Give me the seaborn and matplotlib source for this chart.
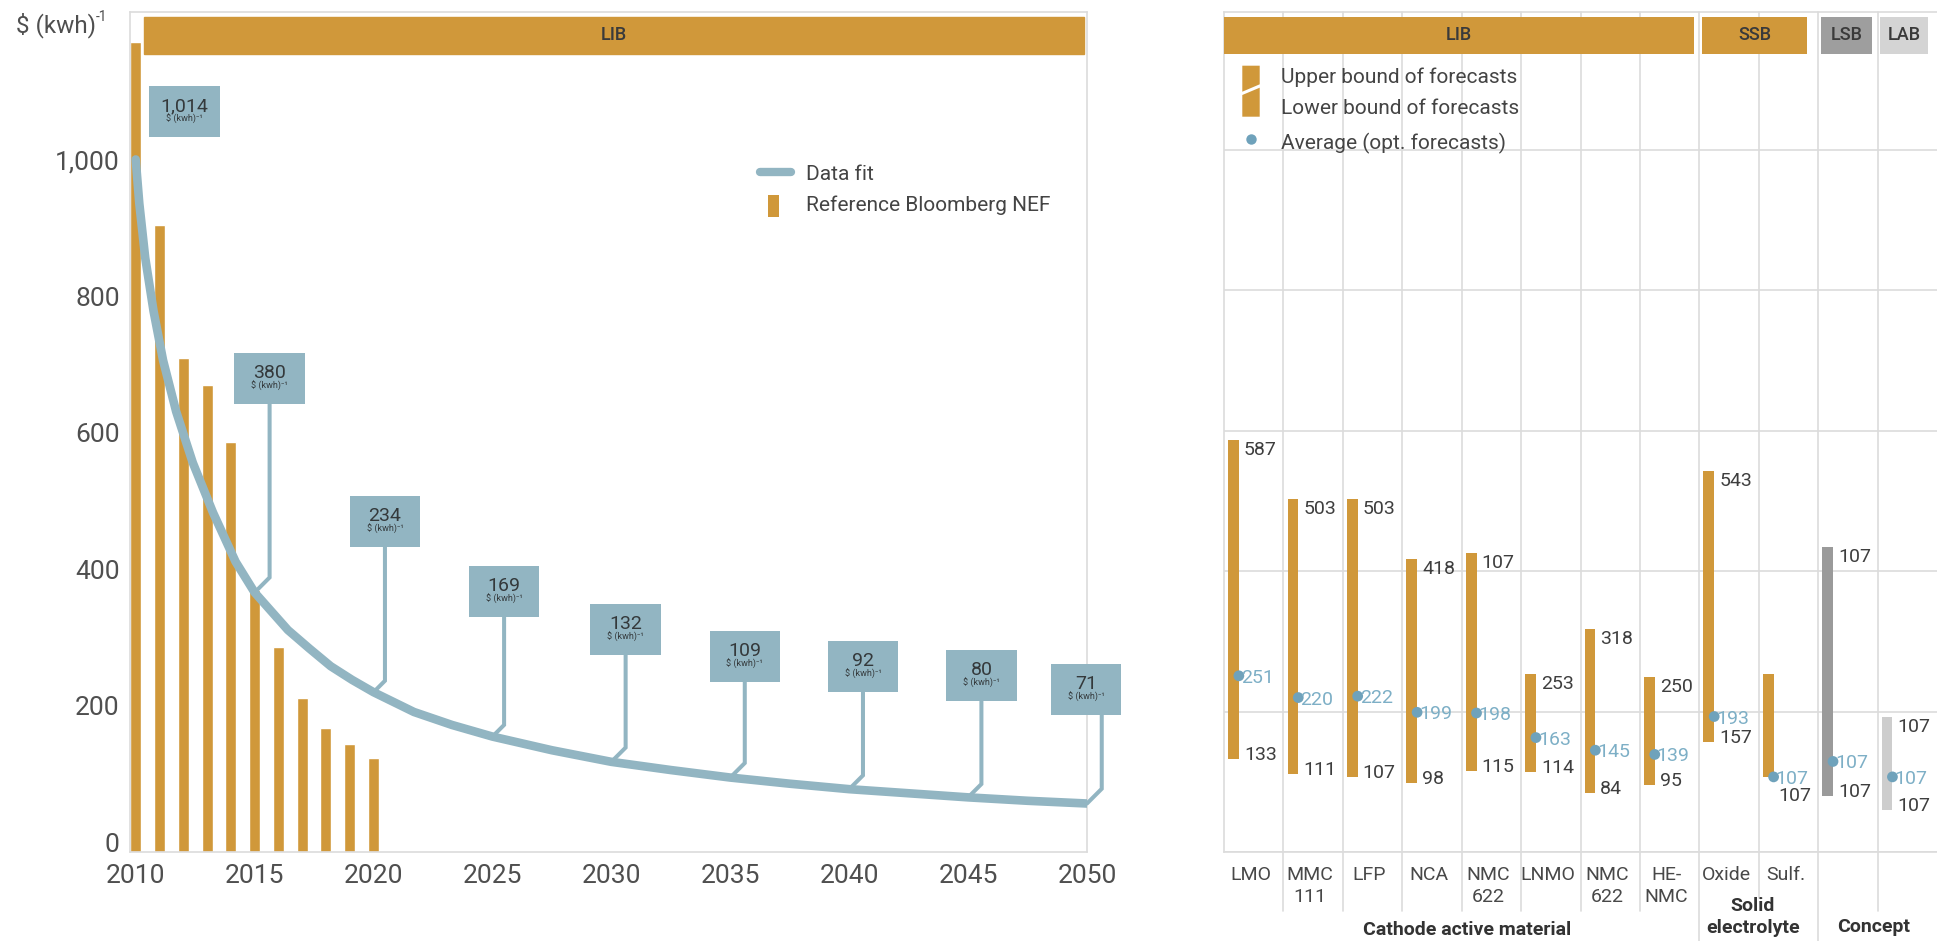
import numpy as np
import matplotlib
matplotlib.use("Agg")
import matplotlib.pyplot as plt
from matplotlib.patches import Rectangle, Polygon
from matplotlib.lines import Line2D
from matplotlib.transforms import blended_transform_factory
import seaborn as sns

# ---------------- data ----------------
# BNEF reference pack prices, $ (kwh)^-1
bnef_years = [2010, 2011, 2012, 2013, 2014, 2015, 2016, 2017, 2018, 2019, 2020]
bnef_prices = [1186, 918, 724, 684, 601, 383, 300, 225, 181, 158, 138]

# fitted cost curve
fit_years = [2010, 2010.15, 2010.4, 2010.75, 2011.15, 2011.7, 2012.4, 2013.25, 2014.2,
             2015, 2016.4, 2017.3, 2018.2, 2019.1, 2020, 2021.7, 2023.3, 2025, 2027.5,
             2030, 2032.5, 2035, 2037.5, 2040, 2042.5, 2045, 2047.5, 2050]
fit_values = [1014, 950, 870, 792, 720, 645, 570, 497, 425,
              380, 325, 298, 272, 252, 234, 205, 186, 169, 149,
              132, 120, 109, 100, 92, 86, 80, 75, 71]

# years with a value callout
callout_years = [2010, 2015, 2020, 2025, 2030, 2035, 2040, 2045, 2050]

# forecast ranges per technology
materials = ["LMO", "MMC\n111", "LFP", "NCA", "NMC\n622", "LNMO", "NMC\n622", "HE-\nNMC",
             "Oxide", "Sulf.", "", ""]
families = ["LIB"] * 8 + ["SSB"] * 2 + ["LSB", "LAB"]
upper = [587, 503, 503, 418, 426, 253, 318, 250, 543, 253, 434, 193]
lower = [133, 111, 107, 98, 115, 114, 84, 95, 157, 107, 80, 60]
average = [251, 220, 222, 199, 198, 163, 145, 139, 193, 107, 129, 107]
upper_text = ["587", "503", "503", "418", "107", "253", "318", "250", "543", "", "107", "107"]
lower_text = ["133", "111", "107", "98", "115", "114", "84", "95", "157", "107", "107", "107"]
average_text = ["251", "220", "222", "199", "198", "163", "145", "139", "193", "107", "107", "107"]

# ---------------- style ----------------
GOLD = "#D0983A"
STEEL = "#92B5C2"
DOT = "#6FA2BB"
DOT_TXT = "#7DAFC6"
GRID = "#DCDCDC"
TXT = "#3E3E3E"
TICK = "#4F4F4F"
FAMILY_COLORS = {"LIB": GOLD, "SSB": GOLD, "LSB": "#9A9A9A", "LAB": "#CDCDCD"}
HEADER_COLORS = {"LIB": GOLD, "SSB": GOLD, "LSB": "#9E9E9E", "LAB": "#D4D4D4"}

sns.set_theme(style="white")
plt.rcParams["font.family"] = ["Roboto", "DejaVu Sans"]

W, H = 1937, 941
fig = plt.figure(figsize=(W / 100, H / 100), dpi=100)


def fx(px):
    return px / W


def fy(py):
    return 1 - py / H


def frame(x0, y_top, x1, y_bot):
    return [fx(x0), fy(y_bot), (x1 - x0) / W, (y_bot - y_top) / H]


# ================= left panel: price trend =================
axL = fig.add_axes(frame(129.5, 12, 1087, 852))
XL = (2009.739, 2050.0)
YL = (0, 1229.9)

sns.barplot(x=bnef_years, y=bnef_prices, native_scale=True, width=0.46, color=GOLD,
            saturation=1, errorbar=None, ax=axL, zorder=2)
sns.lineplot(x=fit_years, y=fit_values, color=STEEL, linewidth=6.2, ax=axL,
             solid_capstyle="round", zorder=4, estimator=None)

axL.set_xlim(*XL)
axL.set_ylim(*YL)
axL.set_xlabel("")
axL.set_ylabel("")
axL.set_xticks(list(range(2010, 2051, 5)))
axL.set_xticklabels([str(y) for y in range(2010, 2051, 5)])
axL.set_yticks(list(range(0, 1001, 200)))
axL.set_yticklabels([f"{v:,}" for v in range(0, 1001, 200)])
axL.tick_params(axis="both", length=0, labelsize=19, labelcolor=TICK)
axL.tick_params(axis="x", pad=8.5)
axL.tick_params(axis="y", pad=7)
for t in axL.yaxis.get_major_ticks():
    t.label1.set_verticalalignment("baseline")
for s in axL.spines.values():
    s.set_color(GRID)
    s.set_linewidth(1.2)
axL.grid(False)

# header band
axL.add_patch(Rectangle(((144 - 129.5) / 957.5, (852 - 54) / 840), (1084.4 - 144) / 957.5,
                        37 / 840, transform=axL.transAxes, color=GOLD, zorder=5, clip_on=False))
axL.text((614 - 129.5) / 957.5, (852 - 35.5) / 840, "LIB", transform=axL.transAxes,
         ha="center", va="center", fontsize=13, fontweight="medium", color="#3A3A3A", zorder=6)

# value callouts
ppx = 957.5 / (XL[1] - XL[0])
ppy = 840 / (YL[1] - YL[0])
box_x = [2012.06, 2015.63, 2020.48, 2025.49, 2030.6, 2035.61, 2040.58, 2045.56, 2049.96]
box_y = [1084, 694, 484, 381, 326, 286, 271, 258, 238]
stem_x = [None, 2015.63, 2020.48, 2025.49, 2030.6, 2035.61, 2040.58, 2045.56, 2050.62]
fit_lookup = dict(zip(fit_years, fit_values))
bw, bh = 70.5 / ppx, 51 / ppy
for k, yr in enumerate(callout_years):
    val = fit_lookup[yr]
    bx, by = box_x[k], box_y[k]
    axL.add_patch(Rectangle((bx - bw / 2, by - bh / 2), bw, bh, color=STEEL,
                            zorder=5, clip_on=False, lw=0))
    top = by + bh / 2
    axL.text(bx, top - 18 / ppy, f"{val:,}", ha="center", va="center_baseline",
             fontsize=14, color="#34393B", zorder=6, clip_on=False)
    axL.text(bx, top - 33 / ppy, "$ (kwh)\u207b\u00b9", ha="center", va="center",
             fontsize=6.5, color="#34393B", zorder=6, clip_on=False, parse_math=False)
    if stem_x[k] is not None:
        xs = stem_x[k]
        kink = val + (xs - yr) * ppx / ppy
        axL.plot([xs, xs, yr], [by - bh / 2, kink, val], color=STEEL, lw=2.9,
                 solid_joinstyle="miter", zorder=3, clip_on=False)

# legend
fig.add_artist(Line2D([fx(759.5), fx(791.4)], [fy(172), fy(172)], transform=fig.transFigure,
                      color=STEEL, lw=6, solid_capstyle="round"))
fig.add_artist(Rectangle((fx(768), fy(217)), 11 / W, 22 / H, transform=fig.transFigure,
                         color=GOLD, lw=0))
fig.text(fx(805.5), fy(174), "Data fit", ha="left", va="center", fontsize=15, color="#444444")
fig.text(fx(805.5), fy(205), "Reference Bloomberg NEF", ha="left", va="center",
         fontsize=15, color="#444444")

# unit label
fig.text(fx(16), fy(25), "$ (kwh)", ha="left", va="center", fontsize=17.5, color=TICK,
         parse_math=False)
fig.text(fx(96), fy(17), "-1", ha="left", va="center", fontsize=10, color=TICK)

# ================= right panel: forecast ranges =================
axR = fig.add_axes(frame(1224, 12, 1937, 852))
n = len(materials)
cols = np.arange(n)
axR.set_xlim(0, n)
axR.set_ylim(0, 1196.6)

bar_colors = [FAMILY_COLORS[f] for f in families]
axR.bar(cols + 0.07, np.array(upper) - np.array(lower), bottom=lower, width=0.18,
        align="edge", color=bar_colors, zorder=3, lw=0)
sns.scatterplot(x=cols + 0.25, y=average, s=60, color=DOT, edgecolor="none",
                ax=axR, zorder=4, legend=False)

lower_dy = [6, 6, 6, 6, 6, 6, 6, 6, 6, -17, 6, 6]
for i in cols:
    xr = i + 0.25
    if upper_text[i]:
        axR.annotate(upper_text[i], (xr, upper[i]), xytext=(5, -8), textcoords="offset pixels",
                     ha="left", va="center_baseline", fontsize=14, color=TXT, zorder=6)
    axR.annotate(lower_text[i], (xr, lower[i]), xytext=(5, lower_dy[i]),
                 textcoords="offset pixels", ha="left", va="center_baseline",
                 fontsize=14, color=TXT, zorder=6)
    axR.annotate(average_text[i], (xr, average[i]), xytext=(2, 0), textcoords="offset pixels",
                 ha="left", va="center_baseline", fontsize=14, color=DOT_TXT, zorder=6)

axR.set_xlabel("")
axR.set_ylabel("")
axR.set_xticks([])
axR.set_yticks(list(range(0, 1001, 200)))
axR.set_yticklabels([])
axR.tick_params(length=0)
axR.yaxis.grid(True, color=GRID, lw=1.2)
axR.set_axisbelow(True)
for side in ["left", "top", "bottom"]:
    axR.spines[side].set_color(GRID)
    axR.spines[side].set_linewidth(1.2)
axR.spines["right"].set_visible(False)

# column separators (run down into the label area)
bt = blended_transform_factory(axR.transData, axR.transAxes)
sep_bottom = {8: -0.106, 10: -0.106, 9: -0.0548}
for xs in range(1, n):
    axR.plot([xs, xs], [1, sep_bottom.get(xs, -0.0702)], transform=bt, color=GRID,
             lw=1.2, zorder=1, clip_on=False)

# header bands
headers = [("LIB", 0.0, 7.91), ("SSB", 8.05, 9.81), ("LSB", 10.05, 10.9), ("LAB", 11.04, 11.85)]
for name, x0, x1 in headers:
    axR.add_patch(Rectangle((x0, (852 - 54) / 840), x1 - x0, 37 / 840, transform=bt,
                            color=HEADER_COLORS[name], zorder=5, lw=0, clip_on=False))
    axR.text((x0 + x1) / 2, (852 - 35.5) / 840, name, transform=bt, ha="center",
             va="center", fontsize=13, fontweight="medium", color="#3A3A3A", zorder=6)


def ay(py):
    return (852 - py) / 840


# category labels
for i, name in enumerate(materials):
    for k, line in enumerate(name.split("\n")):
        if line:
            axR.text(i + 0.45, ay(874.5 + 22.5 * k), line, transform=bt, ha="center",
                     va="center", fontsize=14, color="#484848", clip_on=False)

groups = [("Cathode active material", 4.1, [929.7]),
          ("Solid\nelectrolyte", 8.9, [906, 928]),
          ("Concept", 10.94, [927])]
for text, gx, ys in groups:
    for line, py in zip(text.split("\n"), ys):
        axR.text(gx, ay(py), line, transform=bt, ha="center", va="center", fontsize=14,
                 fontweight="bold", color="#333333", clip_on=False)

# legend
fig.add_artist(Polygon([(fx(1242.3), fy(65.7)), (fx(1259.7), fy(65.7)), (fx(1259.7), fy(84.3)),
                        (fx(1242.3), fy(91.7))], closed=True, transform=fig.transFigure,
                       color=GOLD, lw=0))
fig.add_artist(Polygon([(fx(1242.3), fy(95)), (fx(1259.7), fy(87.7)), (fx(1259.7), fy(116.7)),
                        (fx(1242.3), fy(116.7))], closed=True, transform=fig.transFigure,
                       color=GOLD, lw=0))
fig.add_artist(Line2D([fx(1250.8)], [fy(139.3)], transform=fig.transFigure, marker="o",
                      ms=7.5, color=DOT, lw=0, markeredgewidth=0))
for txt, py in [("Upper bound of forecasts", 77.7), ("Lower bound of forecasts", 108.3),
                ("Average (opt. forecasts)", 143.3)]:
    fig.text(fx(1281), fy(py), txt, ha="left", va="center", fontsize=15, color="#444444")

fig.savefig("out.png", dpi=100, facecolor="white")
